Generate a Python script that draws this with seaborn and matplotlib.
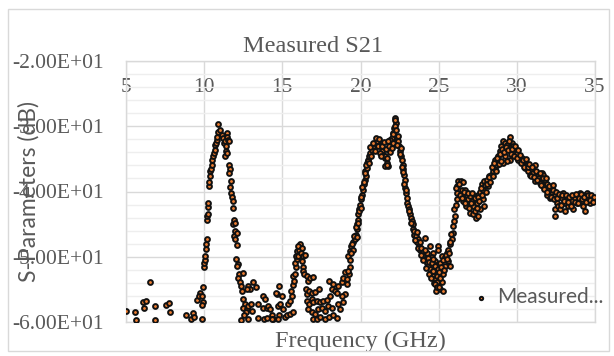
# ============================================================
# Measured S21 scatter (Excel-style chart)
# ============================================================
import numpy as np
import pandas as pd
import matplotlib
matplotlib.use("Agg")
import matplotlib.pyplot as plt
from matplotlib.patches import Rectangle
from matplotlib.ticker import MultipleLocator
import seaborn as sns

# ============================================================
# Data (GHz, dB)
# ============================================================
freq_low = [
    5.00, 5.58, 5.64, 6.54, 6.07, 6.26, 6.15, 6.86, 6.86, 7.56, 7.75, 7.82,
    8.84, 9.16, 9.31, 9.35, 9.84, 9.56, 9.73, 9.67, 9.84, 9.90, 9.88, 9.95,
    10.01, 10.01, 10.05, 10.07, 10.10, 10.12, 10.16, 10.16, 10.20, 10.25, 10.25, 10.27,
    10.29, 10.33, 10.37, 10.37, 10.42, 10.48, 10.50, 10.59, 10.63, 10.69, 10.69, 10.76,
    10.80, 10.84, 10.91, 10.91, 11.01, 11.12, 11.23, 11.27, 11.33, 11.40, 11.44, 11.48,
    11.55, 11.59, 11.40, 11.33, 11.44, 11.61, 11.65, 11.61, 11.70, 11.65, 11.74, 11.78,
    11.82, 11.86, 11.93, 11.86, 11.99, 11.97, 11.91, 12.07, 11.99, 12.12, 12.04, 12.18,
    12.12, 12.25, 12.18, 12.50, 12.29, 12.34, 12.40, 12.50, 12.61, 12.46, 12.72, 12.82,
    12.97, 12.68, 12.55, 13.04, 13.14, 13.32, 12.82, 12.93, 12.72, 12.34, 12.82, 13.42,
    13.46, 13.78, 13.89, 13.74, 13.99, 14.10, 14.21, 13.83, 13.99, 14.32, 14.38, 14.63,
    14.74, 14.79, 14.81,
]
s21_low = [
    -58.3, -58.4, -59.7, -53.8, -57.0, -56.8, -57.9, -57.5, -59.7, -57.4, -57.1, -58.5,
    -59.0, -59.5, -58.6, -59.3, -59.5, -56.6, -55.6, -56.0, -56.0, -56.9, -57.4, -54.6,
    -51.6, -51.0, -50.5, -49.9, -48.8, -48.1, -47.3, -44.3, -43.8, -43.5, -42.4, -41.7,
    -39.2, -38.6, -37.7, -36.9, -36.5, -35.9, -35.1, -34.6, -34.1, -33.6, -32.8, -32.5,
    -32.1, -31.6, -30.9, -29.6, -30.5, -31.3, -31.8, -32.6, -32.3, -33.1, -31.0, -31.6,
    -32.1, -32.3, -33.8, -34.6, -34.1, -35.9, -36.6, -37.1, -38.4, -39.3, -40.2, -40.8,
    -41.5, -42.6, -44.3, -45.0, -44.8, -46.1, -46.8, -46.3, -47.3, -48.2, -50.4, -51.1,
    -51.4, -52.7, -53.2, -52.5, -53.9, -54.5, -55.2, -56.5, -57.3, -57.8, -58.0, -57.5,
    -57.3, -58.4, -59.0, -58.3, -53.9, -54.7, -54.5, -55.0, -55.0, -59.7, -59.5, -59.4,
    -57.3, -56.0, -56.5, -57.9, -57.8, -57.5, -58.0, -59.5, -59.4, -59.0, -59.6, -55.7,
    -57.5, -59.0, -54.5,
]

freq_mid = [
    14.32, 14.74, 14.60, 14.96, 14.85, 15.03, 15.17, 15.28, 15.49, 15.70, 15.38, 15.49,
    15.60, 15.53, 15.66, 15.75, 15.70, 15.81, 15.88, 15.81, 15.92, 15.88, 16.03, 15.96,
    16.09, 16.13, 16.03, 16.24, 16.17, 16.34, 16.45, 16.24, 16.34, 16.30, 16.39, 16.56,
    16.66, 16.77, 16.94, 16.52, 16.60, 16.73, 16.88, 17.09, 17.37, 16.56, 16.73, 16.88,
    16.98, 17.20, 17.41, 17.62, 17.84, 16.66, 16.88, 17.09, 17.30, 17.52, 17.73, 17.94,
    18.16, 16.98, 17.20, 17.41, 17.73, 18.01, 18.27, 18.48, 18.69, 18.05, 18.16, 18.01,
    18.27, 18.37, 18.48, 18.58, 18.80, 18.90, 19.01, 19.12, 19.16, 19.29, 19.33, 19.22,
    19.01, 18.80, 18.90, 18.58, 19.22, 19.33, 19.37, 19.50, 19.54, 19.65, 19.72, 19.76,
    19.80, 19.87, 19.87, 19.93, 19.97, 20.01, 20.08, 20.14, 20.23, 20.29, 20.36, 20.29,
    20.40, 20.44, 20.50, 20.57, 20.61, 20.72, 20.82, 20.93, 21.04, 21.14, 21.25, 21.36,
    21.46, 21.57, 21.68, 21.57, 21.78, 21.85, 21.89, 22.00, 22.10, 22.15, 22.21, 22.27,
    22.32, 22.42, 22.48, 22.53, 22.57, 22.63, 22.70, 22.74, 22.78, 22.85, 22.85, 22.91,
    22.95, 23.00, 23.06, 23.13, 23.17, 23.21, 23.28, 23.34, 23.38, 23.43, 23.55, 23.70,
    23.59, 23.76, 23.81, 23.92, 24.02, 24.13, 24.24, 24.34, 24.45, 24.56, 24.66, 24.77,
    24.88, 24.98, 24.66, 24.77, 24.56, 24.24, 24.02, 24.13, 21.04, 21.25, 21.57, 21.68,
    21.89, 22.00, 22.21,
    20.60, 20.70, 20.80, 20.90, 21.00, 21.10, 21.20, 21.30, 21.40, 21.50, 21.60, 21.70,
    21.75, 21.80, 21.90, 22.00, 22.05, 22.10, 22.20, 22.30, 22.35, 22.40, 22.50, 22.60,
    22.65, 22.70, 22.80, 22.90, 19.30, 19.40, 19.45, 19.60, 19.70, 19.75, 19.85, 19.90,
    20.00, 20.05, 20.10, 20.20, 20.30, 20.35, 20.45, 20.55, 23.10, 23.25, 23.40, 23.50,
    23.60, 23.65, 23.80, 23.85, 23.90, 24.00, 24.10, 24.20, 24.30, 24.35, 24.40, 24.50,
    24.60, 24.70, 24.75, 24.80, 24.85, 24.90, 24.95,
]
s21_mid = [
    -59.5, -59.6, -55.6, -56.0, -57.3, -58.0, -59.3, -59.0, -58.8, -58.4, -57.3, -56.8,
    -56.0, -55.2, -54.4, -53.7, -52.9, -52.7, -51.6, -50.9, -50.4, -49.9, -49.9, -49.1,
    -48.9, -48.1, -48.3, -48.6, -49.5, -49.9, -49.8, -50.6, -51.6, -52.2, -52.7, -52.9,
    -53.7, -53.2, -53.1, -55.0, -55.7, -55.2, -55.6, -55.4, -55.0, -56.8, -57.3, -56.5,
    -57.0, -56.8, -56.9, -56.8, -56.6, -58.0, -58.5, -58.8, -58.0, -57.8, -58.3, -57.5,
    -57.9, -59.5, -59.6, -59.3, -59.5, -59.3, -58.9, -59.4, -58.0, -56.0, -55.0, -53.7,
    -54.2, -55.2, -55.5, -54.5, -53.9, -53.2, -52.4, -53.4, -54.2, -52.7, -51.6, -52.2,
    -55.7, -56.0, -57.0, -57.3, -49.9, -49.1, -48.3, -48.9, -47.8, -47.3, -46.6, -45.8,
    -45.0, -44.3, -43.5, -42.7, -42.0, -41.2, -40.5, -39.7, -38.9, -38.2, -37.7, -36.9,
    -36.4, -35.6, -35.1, -34.6, -34.1, -33.6, -33.1, -32.6, -32.2, -32.6, -33.1, -33.8,
    -34.4, -34.9, -35.6, -36.1, -36.1, -33.6, -32.1, -31.8, -31.0, -30.3, -28.8, -29.5,
    -31.8, -32.3, -33.1, -33.8, -34.6, -35.1, -35.9, -36.6, -37.4, -38.2, -39.4, -40.2,
    -41.0, -41.7, -42.2, -42.7, -43.5, -44.0, -44.5, -45.0, -45.8, -46.6, -46.8, -47.3,
    -47.8, -48.3, -48.9, -49.4, -49.9, -50.4, -50.9, -51.4, -51.9, -52.4, -52.9, -53.4,
    -54.5, -48.3, -49.4, -50.6, -50.1, -49.4, -49.1, -47.1, -32.3, -34.1, -34.6, -35.9,
    -32.1, -32.8, -29.0,
    -33.2, -34.5, -32.5, -33.8, -31.8, -33.0, -32.0, -34.5, -33.0, -32.4, -33.5, -34.8,
    -32.3, -33.0, -34.0, -33.4, -31.2, -32.5, -30.0, -30.6, -32.8, -31.5, -34.2, -33.4,
    -36.2, -37.0, -38.8, -39.8, -50.5, -49.5, -48.0, -46.8, -45.5, -47.0, -44.8, -43.0,
    -42.5, -40.8, -39.3, -38.5, -37.2, -36.0, -35.3, -35.6, -43.0, -44.8, -46.0, -47.5,
    -46.2, -48.6, -47.8, -49.8, -48.6, -50.5, -49.0, -51.8, -50.2, -52.6, -50.8, -53.2,
    -51.0, -54.0, -52.0, -55.3, -51.2, -53.8, -49.0,
]

freq_high = [
    24.45, 24.66, 24.77, 24.66, 24.88, 24.77, 24.88, 25.09, 25.30, 25.20, 25.09, 25.30,
    24.98, 25.09, 25.20, 25.41, 25.52, 25.62, 25.73, 25.41, 25.62, 25.73, 25.84, 25.90,
    25.94, 25.99, 26.05, 25.99, 26.11, 26.16, 26.16, 26.20, 26.26, 26.41, 26.58, 26.48,
    26.69, 26.80, 26.58, 26.75, 26.90, 27.01, 27.11, 27.22, 27.01, 27.22, 27.39, 27.54,
    27.65, 27.43, 27.33, 27.54, 27.65, 27.82, 27.86, 27.91, 27.75, 27.91, 28.08, 28.18,
    28.25, 28.33, 28.50, 28.61, 28.72, 28.61, 28.82, 28.93, 28.97, 29.14, 29.25, 29.40,
    29.57, 29.67, 29.78, 29.89, 29.67, 29.57, 29.36, 29.25, 29.14, 29.99, 30.10, 30.31,
    30.52, 30.63, 30.52, 30.74, 30.85, 30.95, 31.17, 31.06, 31.27, 31.38, 31.17, 31.49,
    31.59, 31.70, 31.81, 31.70, 31.91, 32.02, 31.91, 32.13, 32.23, 32.34, 32.45, 32.55,
    32.45, 32.45, 32.66, 32.77, 32.87, 32.98, 33.09, 33.09, 33.19, 33.30, 33.41, 33.51,
    33.62, 33.73, 33.83, 33.94, 34.05, 34.15, 34.26, 34.37, 34.37, 34.47, 34.58, 34.69,
    34.79, 34.90, 35.00,
    25.00, 25.05, 25.15, 25.25, 25.35, 25.45, 25.55, 25.65, 25.70, 25.80, 26.10, 26.30,
    26.35, 26.50, 26.60, 26.70, 26.85, 26.95, 27.05, 27.15, 27.30, 27.35, 27.45, 27.50,
    27.60, 27.70, 27.80, 27.95, 28.00, 28.10, 28.20, 28.30, 28.40, 28.45, 28.55, 28.65,
    28.75, 28.85, 28.90, 29.00, 29.05, 29.20, 29.30, 29.45, 29.50, 29.60, 29.70, 29.80,
    29.90, 30.00, 30.05, 30.20, 30.25, 30.40, 30.45, 30.60, 30.70, 30.80, 30.90, 31.00,
    31.10, 31.20, 31.30, 31.45, 31.55, 31.65, 31.75, 31.85, 31.95, 32.05, 32.20, 32.30,
    32.40, 32.50, 32.60, 32.70, 32.80, 32.90, 33.00, 33.15, 33.25, 33.35, 33.45, 33.55,
    33.70, 33.80, 33.90, 34.00, 34.10, 34.20, 34.30, 34.45, 34.55, 34.65, 34.75, 34.85,
    34.95,
]
s21_high = [
    -48.3, -50.4, -51.4, -52.2, -52.9, -54.2, -54.7, -55.0, -55.2, -53.9, -53.2, -52.7,
    -51.9, -50.9, -49.9, -50.1, -49.4, -50.6, -51.4, -51.4, -48.9, -48.1, -47.3, -46.3,
    -45.3, -44.5, -43.8, -42.7, -42.0, -41.2, -40.2, -39.2, -38.4, -38.4, -38.6, -39.7,
    -39.7, -40.5, -41.5, -42.2, -41.2, -40.7, -41.5, -42.2, -43.3, -43.5, -44.0, -43.8,
    -42.7, -41.7, -40.7, -40.5, -40.0, -39.7, -41.2, -42.2, -38.9, -38.4, -38.2, -39.2,
    -37.7, -37.4, -36.9, -36.6, -35.9, -35.1, -34.6, -33.8, -33.1, -32.3, -32.6, -32.8,
    -31.6, -32.6, -33.1, -33.8, -34.4, -35.1, -35.4, -34.6, -35.6, -34.1, -35.1, -34.9,
    -35.4, -35.9, -36.4, -36.9, -37.4, -36.6, -35.9, -37.1, -37.7, -37.9, -38.4, -38.7,
    -37.1, -37.4, -38.2, -39.2, -38.9, -39.7, -40.5, -41.0, -40.0, -39.7, -40.5, -41.7,
    -42.7, -43.8, -42.2, -42.7, -41.0, -40.2, -41.7, -43.0, -41.0, -42.2, -41.2, -41.5,
    -42.7, -41.0, -41.7, -40.7, -40.2, -41.5, -42.2, -43.0, -40.5, -40.2, -41.0, -41.7,
    -41.0, -41.2, -41.0,
    -54.6, -52.4, -51.6, -50.5, -52.0, -49.8, -50.3, -49.5, -47.8, -46.5, -39.5, -38.9,
    -40.6, -41.0, -40.0, -41.8, -40.3, -42.6, -41.8, -40.2, -41.0, -43.0, -42.5, -40.8,
    -41.5, -39.5, -40.5, -39.0, -40.0, -38.8, -37.8, -38.5, -36.2, -37.6, -35.6, -36.8,
    -34.8, -35.8, -34.2, -35.3, -33.5, -34.0, -33.2, -33.6, -32.2, -34.2, -33.5, -34.6,
    -33.0, -34.8, -33.6, -34.4, -35.6, -35.2, -36.3, -35.0, -36.2, -35.8, -37.6, -36.2,
    -37.8, -36.8, -38.3, -37.2, -39.0, -38.0, -39.6, -38.0, -40.0, -39.2, -40.8, -39.0,
    -41.2, -40.0, -41.0, -40.4, -42.0, -40.6, -41.4, -40.5, -41.6, -40.8, -42.2, -40.6,
    -41.6, -40.4, -41.8, -41.0, -40.4, -41.2, -40.8, -41.6, -40.6, -41.3, -40.6, -41.6,
    -40.8,
]

y_ticks = [-60, -50, -40, -30, -20]
x_ticks = [5, 10, 15, 20, 25, 30, 35]

data = pd.DataFrame({
    "freq_ghz": freq_low + freq_mid + freq_high,
    "s21_db": s21_low + s21_mid + s21_high,
})

# ============================================================
# Style
# ============================================================
sns.set_style("white")
serif = ["Liberation Serif", "DejaVu Serif"]
sans = ["Lato", "DejaVu Sans"]
plt.rcParams["font.family"] = serif
grey_text = "#595959"
grid_major = "#d9d9d9"
grid_minor = "#eeeeee"

fig = plt.figure(figsize=(6.14, 3.56), dpi=100)
ax = fig.add_axes([126 / 614, 1 - 322 / 356, 469 / 614, 261 / 356])

# orange dots with a heavy dark rim, as Excel draws them
sns.scatterplot(data=data, x="freq_ghz", y="s21_db", ax=ax,
                s=12, color="#ED7D31", edgecolor="#111111", linewidth=1.4,
                label="Measured...", zorder=3)

ax.set_xlim(5, 35)
ax.set_ylim(-60, -20)
ax.set_xticks(x_ticks)
ax.set_yticks(y_ticks)
ax.set_yticklabels([f"{v:.2E}" for v in y_ticks])
ax.yaxis.set_minor_locator(MultipleLocator(2))

ax.set_axisbelow(True)
ax.grid(which="major", color=grid_major, linewidth=1.0)
ax.grid(which="minor", axis="y", color=grid_minor, linewidth=1.0)
for sp in ax.spines.values():
    sp.set_color(grid_major)
    sp.set_linewidth(1.0)

ax.tick_params(axis="y", which="major", length=6, width=1.0, color=grid_major,
               labelsize=15.5, labelcolor=grey_text, pad=10)
ax.tick_params(axis="y", which="minor", length=0)
ax.tick_params(axis="x", which="both", length=0, bottom=False, top=False,
               labelbottom=False, labeltop=True, labelsize=15.5,
               labelcolor=grey_text, pad=-26)

ax.set_xlabel("Frequency (GHz)", fontsize=17.5, color=grey_text)
ax.xaxis.set_label_coords(0.5, -0.035)
ax.set_ylabel("S-Parameters (dB)", fontsize=16.5, color=grey_text, family=sans)
ax.yaxis.set_label_coords(-0.185, 0.5)
ax.set_title("Measured S21", fontsize=17.5, color=grey_text,
             x=(313 - 126) / 469, y=(322 - 52) / 261, pad=0)

leg = ax.legend(loc="center left", bbox_to_anchor=((460 - 126) / 469, (322 - 297) / 261),
                frameon=False, borderpad=0, handletextpad=0.3, handlelength=1.0,
                markerscale=0.7, prop={"family": sans, "size": 15})
for t in leg.get_texts():
    t.set_color(grey_text)

# outer chart frame
fig.patches.append(Rectangle((8 / 614, 1 - 351 / 356), 601 / 614, 342 / 356,
                             transform=fig.transFigure, fill=False,
                             edgecolor=grid_major, linewidth=1.0))

fig.savefig("out.png", dpi=100)
